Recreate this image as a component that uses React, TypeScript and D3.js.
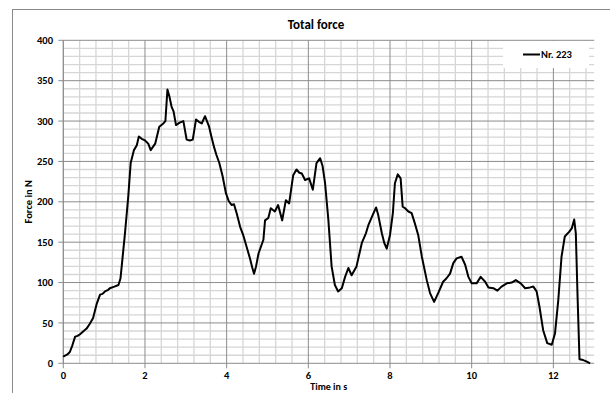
import React from "react";
import * as d3 from "d3";

const timeS: number[] = [
  0.0, 0.02, 0.1, 0.16, 0.22, 0.29, 0.35, 0.41, 0.5, 0.57, 0.65, 0.73, 0.82, 0.9, 0.96, 1.02, 1.1, 1.14, 1.25, 1.35, 1.4,
  1.43, 1.51, 1.59, 1.65, 1.73, 1.8, 1.85, 1.92, 2.0, 2.08, 2.14, 2.25, 2.35, 2.45, 2.5, 2.55, 2.6, 2.65, 2.7, 2.76,
  2.85, 2.94, 3.02, 3.1, 3.17, 3.25, 3.32, 3.39, 3.47, 3.57, 3.62, 3.69, 3.75, 3.82, 3.9, 3.98, 4.05, 4.12, 4.18,
  4.25, 4.33, 4.41, 4.49, 4.57, 4.63, 4.67, 4.72, 4.78, 4.9, 4.94, 5.02, 5.08, 5.18, 5.26, 5.36, 5.45, 5.53, 5.59,
  5.63, 5.71, 5.78, 5.84, 5.92, 6.02, 6.11, 6.2, 6.29, 6.35, 6.41, 6.49, 6.57, 6.65, 6.73, 6.82, 6.9, 6.98, 7.06,
  7.18, 7.31, 7.41, 7.47, 7.58, 7.66, 7.71, 7.8, 7.86, 7.92, 8.0, 8.07, 8.12, 8.19, 8.26, 8.31, 8.37, 8.45, 8.53,
  8.61, 8.69, 8.78, 8.9, 8.98, 9.08, 9.18, 9.3, 9.38, 9.47, 9.55, 9.63, 9.75, 9.84, 9.92, 10.0, 10.12, 10.22,
  10.33, 10.41, 10.53, 10.63, 10.73, 10.86, 10.98, 11.08, 11.2, 11.31, 11.43, 11.51, 11.59, 11.66, 11.75, 11.85,
  11.96, 12.04, 12.12, 12.2, 12.28, 12.39, 12.45, 12.51, 12.55, 12.59, 12.64, 12.73, 12.82, 12.9,
];

const forceN: number[] = [
  8, 9, 11, 14, 22, 33, 34, 36, 40, 43, 49, 56, 74, 85, 86, 89, 91, 93, 95, 97, 105,
  120, 161, 206, 248, 264, 270, 281, 278, 276, 272, 264, 272, 293, 297, 300, 339, 330, 318, 312, 295,
  298, 300, 277, 276, 277, 302, 299, 297, 306, 293, 282, 268, 258, 248, 232, 211, 201, 196, 197,
  185, 169, 158, 144, 130, 118, 111, 120, 136, 153, 177, 180, 192, 188, 196, 177, 202, 198, 219,
  233, 240, 236, 235, 227, 229, 215, 248, 254, 244, 223, 178, 120, 97, 89, 93, 107, 118, 109,
  120, 149, 161, 171, 184, 193, 184, 161, 149, 142, 159, 186, 223, 234, 229, 194, 192, 188, 186,
  173, 159, 132, 103, 87, 76, 87, 101, 105, 111, 124, 130, 132, 122, 107, 99, 99, 107,
  101, 94, 93, 90, 95, 99, 100, 103, 99, 93, 94, 95, 89, 70, 41, 25,
  23, 37, 78, 132, 157, 163, 167, 178, 161, 87, 5, 4, 2, 0,
];

const xTicks: number[] = [0, 2, 4, 6, 8, 10, 12];
const yTicks: number[] = [0, 50, 100, 150, 200, 250, 300, 350, 400];
const chartTitle = "Total force";
const xTitle = "Time in s";
const yTitle = "Force in N";
const seriesName = "Nr. 223";

const FONT = "Carlito, Lato, 'Open Sans', 'Liberation Sans', sans-serif";

export default function App() {
  const left = 63.3;
  const right = 594.2;
  const top = 40.3;
  const bottom = 363.3;

  const x = d3.scaleLinear().domain([0, 13]).range([left, right]);
  const y = d3.scaleLinear().domain([0, 400]).range([bottom, top]);

  const minorX = d3.range(0, 13.0001, 0.4).filter((v) => Math.abs(v / 2 - Math.round(v / 2)) > 1e-6);
  const minorY = d3.range(0, 400.001, 10).filter((v) => v % 50 !== 0);

  const pts: [number, number][] = timeS.map((t, i) => [t, forceN[i]]);
  const line = d3
    .line<[number, number]>()
    .x((d) => x(d[0]))
    .y((d) => y(d[1]));

  return (
    <svg
      width={610}
      height={393}
      style={{ position: "absolute", left: 0, top: 0, background: "#fff" }}
      fontFamily={FONT}
    >
      <rect x={0} y={0} width={610} height={393} fill="#fff" />
      <rect x={12.5} y={9.5} width={700} height={500} fill="#fff" stroke="#8a8a8a" strokeWidth={1} />

      {/* minor grid */}
      {minorX.map((v) => (
        <line key={"mx" + v} x1={x(v)} x2={x(v)} y1={top} y2={bottom} stroke="#d6d6d6" strokeWidth={1.3} />
      ))}
      {minorY.map((v) => (
        <line key={"my" + v} x1={left} x2={right} y1={y(v)} y2={y(v)} stroke="#d6d6d6" strokeWidth={1.3} />
      ))}
      {/* major grid */}
      {xTicks.map((v) => (
        <line key={"Mx" + v} x1={x(v)} x2={x(v)} y1={top} y2={bottom + 5} stroke="#8c8c8c" strokeWidth={1} />
      ))}
      {yTicks.map((v) => (
        <line key={"My" + v} x1={left - 5} x2={right} y1={y(v)} y2={y(v)} stroke="#8c8c8c" strokeWidth={1} />
      ))}
      <line x1={left} x2={left} y1={top} y2={bottom} stroke="#8c8c8c" strokeWidth={1} />

      {/* tick labels */}
      {yTicks.map((v) => (
        <text
          key={"yl" + v}
          x={53}
          y={y(v)}
          dy="0.35em"
          textAnchor="end"
          fontSize={10.5}
          fontWeight="bold"
          fill="#000"
        >
          {v}
        </text>
      ))}
      {xTicks.map((v) => (
        <text
          key={"xl" + v}
          x={x(v)}
          y={379}
          textAnchor="middle"
          fontSize={10.5}
          fontWeight="bold"
          fill="#000"
        >
          {v}
        </text>
      ))}

      {/* data line */}
      <path d={line(pts) || ""} fill="none" stroke="#000" strokeWidth={2} strokeLinejoin="round" />

      {/* legend */}
      <rect x={503} y={41} width={86} height={27} fill="#fff" />
      <line x1={523} x2={540} y1={54.5} y2={54.5} stroke="#000" strokeWidth={2} />
      <text x={541} y={58} fontSize={10.5} fontWeight="bold" fill="#000">
        {seriesName}
      </text>

      {/* titles */}
      <text x={316} y={29} textAnchor="middle" fontSize={13} fontWeight="bold" fill="#000">
        {chartTitle}
      </text>
      <text x={(left + right) / 2} y={389.5} textAnchor="middle" fontSize={10} fontWeight="bold" fill="#000">
        {xTitle}
      </text>
      <text
        transform={`translate(32, ${(top + bottom) / 2}) rotate(-90)`}
        textAnchor="middle"
        fontSize={10.5}
        fontWeight="bold"
        fill="#000"
      >
        {yTitle}
      </text>
    </svg>
  );
}
